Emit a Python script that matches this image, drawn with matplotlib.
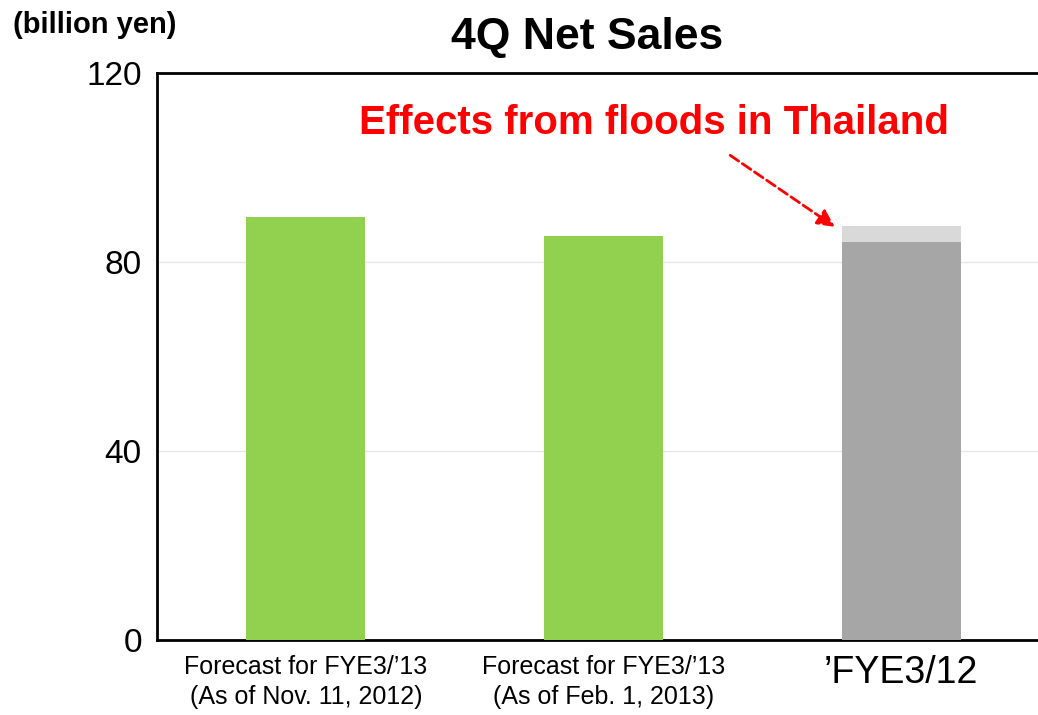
import numpy as np
from matplotlib import pyplot as plt

plt.rcParams['font.family'] = ['Liberation Sans', 'DejaVu Sans']

# 数据
labels = ["Forecast for FYE3/\u201913\n(As of Nov. 11, 2012)",
          "Forecast for FYE3/\u201913\n(As of Feb. 1, 2013)",
          "\u2019FYE3/12"]
sales = [89.6, 85.4, 84.3]
flood_effect = [0, 0, 3.4]
colors = ["#92D050", "#92D050", "#A6A6A6"]

fig = plt.figure(figsize=(10.38, 7.15), dpi=100)
ax = fig.add_axes([0.1513, 0.1049, 0.8487, 0.7931])

x = np.arange(len(labels))
w = 0.4
ax.bar(x, sales, width=w, color=colors, zorder=3)
ax.bar(x, flood_effect, width=w, bottom=sales, color="#D9D9D9", zorder=3)

ax.set_ylim(0, 120)
ax.set_xlim(-0.5, 2.46)
ax.set_yticks([0, 40, 80, 120])
ax.tick_params(axis='y', length=0, labelsize=24, pad=11)
ax.tick_params(axis='x', length=0, labelsize=18, pad=11)
ax.yaxis.grid(True, color="#E6E6E6", linewidth=1, zorder=0)
ax.set_xticks(x)
ax.set_xticklabels(labels, linespacing=1.3)
ax.get_xticklabels()[2].set_fontsize(27)

for s in ['left', 'bottom', 'top']:
    ax.spines[s].set_linewidth(2)
    ax.spines[s].set_color('black')
ax.spines['right'].set_visible(False)

fig.text(0.566, 0.948, "4Q Net Sales", ha='center', va='center',
         fontsize=32, fontweight='bold')
fig.text(0.013, 0.965, "(billion yen)", ha='left', va='center',
         fontsize=21, fontweight='bold')

# 泰国洪水影响
top3 = sales[2] + flood_effect[2]
ax.text(1.17, 109.4, "Effects from floods in Thailand", ha='center', va='center',
        fontsize=29, fontweight='bold', color='red')
ax.annotate("", xy=(2 - w / 2 - 0.015, top3 - 0.6), xytext=(1.418, 102.9),
            arrowprops=dict(arrowstyle='-|>', color='red', linestyle='--',
                            linewidth=2, mutation_scale=26))

plt.savefig('out.png', dpi=100)
plt.close('all')
